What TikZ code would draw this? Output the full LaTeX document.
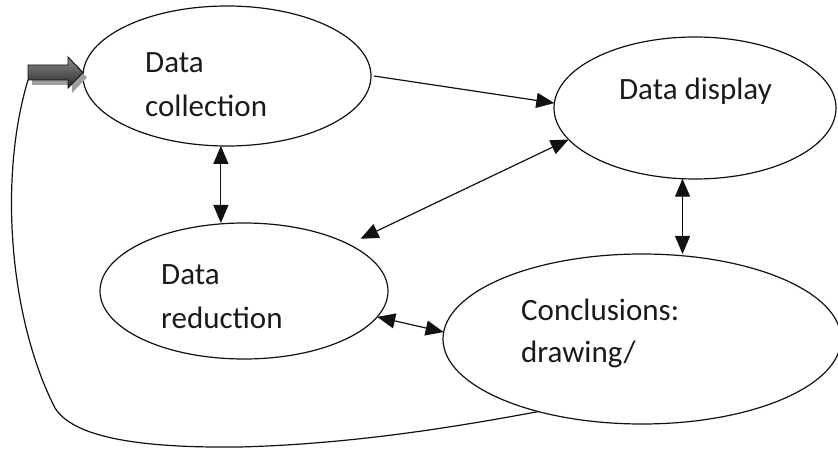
\documentclass[tikz,border=0pt]{standalone}
\usepackage{fontspec}
\setmainfont{Carlito}
\usetikzlibrary{arrows.meta,shapes.geometric}
\definecolor{ink}{HTML}{111111}
\definecolor{txt}{HTML}{1A1A1A}
\begin{document}
\begin{tikzpicture}[x=1pt,y=-1pt,
  oval/.style={ellipse,draw=ink,line width=1.2pt,inner sep=0pt,outer sep=0pt},
  lbl/.style={anchor=base west,inner sep=0pt,font=\fontsize{31}{36}\selectfont,text=txt},
  conn/.style={draw=ink,line width=1.2pt,-{Triangle[length=18pt,width=15pt]}},
  bconn/.style={draw=ink,line width=1.2pt,{Triangle[length=18pt,width=15pt]}-{Triangle[length=18pt,width=15pt]}},
  loopline/.style={draw=ink,line width=1.2pt}]
\useasboundingbox (0,0) rectangle (838,449);
% ellipses
\node[oval,minimum width=288pt,minimum height=140pt] (coll) at (227,76) {};
\node[oval,minimum width=282pt,minimum height=142pt] (disp) at (695,108) {};
\node[oval,minimum width=288pt,minimum height=136pt] (red) at (244,291) {};
\node[oval,minimum width=398pt,minimum height=170pt] (conc) at (642,339) {};
% texts
\node[lbl] (t1a) at (145,73) {Data};
\node[lbl] (t1b) at (145,117) {collection};
\node[lbl,anchor=base] (t2) at (695.5,100) {Data display};
\node[lbl] (t3a) at (161,284) {Data};
\node[lbl] (t3b) at (161,328) {reduction};
\node[lbl] (t4a) at (521,320) {Conclusions:};
\node[lbl] (t4b) at (521,362) {drawing/};
% block arrow with shadow
\fill[black!38] (32,70) -- (72,70) -- (72,62) -- (87,77.5) -- (72,93) -- (72,85) -- (32,85) -- cycle;
\shade[top color=black!45,bottom color=black!85,draw=ink,line width=0.9pt]
  (28,65) -- (68,65) -- (68,57) -- (83,72.5) -- (68,88) -- (68,80) -- (28,80) -- cycle;
\coordinate (tail) at (28,80);
% connectors
\draw[conn] ([xshift=3pt]coll.east) -- (disp.178);
\draw[bconn,shorten >=13pt] (disp.194) -- (red.24.5);
\draw[bconn] (coll.265) -- (red.north -| coll.265);
\draw[bconn] (disp.260) -- (conc.north -| disp.260);
\draw[bconn] (red.349) -- (conc.178);
% feedback loop
\draw[loopline] (tail) .. controls (-2,180) and (10,320) .. (55,408)
  .. controls (75,440) and (150,448) .. (240,447)
  .. controls (350,444) and (450,428) .. (conc.215);
\end{tikzpicture}
\end{document}
